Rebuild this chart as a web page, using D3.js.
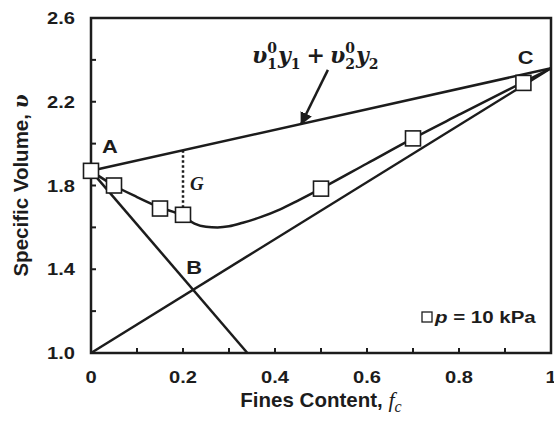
<!DOCTYPE html>
<html>
<head>
<meta charset="utf-8">
<script src="https://cdn.jsdelivr.net/npm/d3@7"></script>
<style>
  html, body { margin: 0; padding: 0; background: #fff; }
  svg { display: block; }
</style>
</head>
<body>
<div id="chart"></div>
<script>
// measured specimens (p = 10 kPa)
const sampleFc = [0, 0.05, 0.15, 0.2, 0.5, 0.7, 0.94];
const sampleV = [1.87, 1.80, 1.69, 1.66, 1.785, 2.025, 2.29];

// fitted curve
const curveFc = [0, 0.05, 0.1, 0.15, 0.2, 0.225, 0.25, 0.275, 0.3, 0.33, 0.37, 0.41, 0.45, 0.5, 0.6, 0.7, 0.8, 0.9, 1.0];
const curveV = [1.87, 1.80, 1.745, 1.695, 1.655, 1.618, 1.603, 1.60, 1.605, 1.622, 1.65, 1.685, 1.728, 1.785, 1.905, 2.025, 2.138, 2.25, 2.36];

// straight reference lines
const upperFc = [0, 1], upperV = [1.87, 2.36];     // A - C
const lowerFc = [0, 1], lowerV = [1.0, 2.36];      // origin - C
const abFc = [0, 0.34], abV = [1.87, 1.0];         // A - B

const xTicks = [0, 0.1, 0.2, 0.3, 0.4, 0.5, 0.6, 0.7, 0.8, 0.9, 1];
const xTickLabels = ['0', '0.2', '0.4', '0.6', '0.8', '1'];
const yTicks = [1.0, 1.2, 1.4, 1.6, 1.8, 2.0, 2.2, 2.4, 2.6];
const yTickLabels = ['1.0', '1.4', '1.8', '2.2', '2.6'];

const W = 554, H = 421;
const ink = '#1c1c1c';
const sans = '"Liberation Sans", Arial, sans-serif';
const svg = d3.select('#chart').append('svg')
    .attr('width', W).attr('height', H);

const x = d3.scaleLinear().domain([0, 1]).range([91, 551]);
const y = d3.scaleLinear().domain([1.0, 2.6]).range([353, 18]);

// frame
svg.append('rect')
    .attr('x', x(0)).attr('y', y(2.6))
    .attr('width', x(1) - x(0)).attr('height', y(1.0) - y(2.6))
    .attr('fill', 'none').attr('stroke', ink).attr('stroke-width', 2.5);

// ticks (inward)
svg.append('g').selectAll('line').data(xTicks).join('line')
    .attr('x1', d => x(d)).attr('x2', d => x(d))
    .attr('y1', y(1.0)).attr('y2', y(1.0) - 5)
    .attr('stroke', ink).attr('stroke-width', 2);
svg.append('g').selectAll('line').data(yTicks).join('line')
    .attr('x1', x(0)).attr('x2', x(0) + 5)
    .attr('y1', d => y(d)).attr('y2', d => y(d))
    .attr('stroke', ink).attr('stroke-width', 2);

// the tick labels in the figure are a bit wide, so stretch them sideways
const stretch = 1.22;
svg.append('g').selectAll('text').data(xTickLabels).join('text')
    .attr('transform', d => `translate(${x(+d)},${y(1.0) + 30}) scale(${stretch},1)`)
    .attr('text-anchor', 'middle')
    .style('font', `bold 16.5px ${sans}`)
    .attr('fill', ink).text(d => d);
svg.append('g').selectAll('text').data(yTickLabels).join('text')
    .attr('transform', d => `translate(${x(0) - 16},${y(+d) + 6}) scale(${stretch},1)`)
    .attr('text-anchor', 'end')
    .style('font', `bold 16.5px ${sans}`)
    .attr('fill', ink).text(d => d);

// axis titles
const yTitle = svg.append('text')
    .attr('transform', `translate(28,${(y(1.0) + y(2.6)) / 2}) rotate(-90)`)
    .attr('text-anchor', 'middle')
    .style('font', `bold 20.5px ${sans}`)
    .attr('fill', ink);
yTitle.append('tspan').text('Specific Volume, ');
yTitle.append('tspan').style('font', 'italic bold 20px "DejaVu Serif", serif').text('υ');

const xTitle = svg.append('text')
    .attr('x', (x(0) + x(1)) / 2).attr('y', 407)
    .attr('text-anchor', 'middle')
    .style('font', `bold 20.5px ${sans}`)
    .attr('fill', ink);
xTitle.append('tspan').text('Fines Content,  ');
xTitle.append('tspan').style('font', 'italic 22px "Liberation Serif", serif').text('f');
xTitle.append('tspan').attr('dy', 5).style('font', 'italic 16px "Liberation Serif", serif').text('c');

// lines
const line = d3.line().x(d => x(d[0])).y(d => y(d[1]));
const zip = (a, b) => a.map((v, i) => [v, b[i]]);

[[upperFc, upperV], [lowerFc, lowerV], [abFc, abV]].forEach(([f, v]) => {
    svg.append('path').datum(zip(f, v))
        .attr('d', line)
        .attr('fill', 'none').attr('stroke', ink).attr('stroke-width', 2.5);
});

svg.append('path').datum(zip(curveFc, curveV))
    .attr('d', line.curve(d3.curveMonotoneX))
    .attr('fill', 'none').attr('stroke', ink).attr('stroke-width', 2.5);

// G gap (dotted)
const gFc = 0.2;
svg.append('line')
    .attr('x1', x(gFc)).attr('x2', x(gFc))
    .attr('y1', y(upperV[0] + gFc * (upperV[1] - upperV[0])))
    .attr('y2', y(sampleV[3]) - 7)
    .attr('stroke', ink).attr('stroke-width', 2.5)
    .attr('stroke-dasharray', '2.5,2.5');

// markers
const ms = 15;
svg.append('g').selectAll('rect').data(zip(sampleFc, sampleV)).join('rect')
    .attr('x', d => x(d[0]) - ms / 2).attr('y', d => y(d[1]) - ms / 2)
    .attr('width', ms).attr('height', ms)
    .attr('fill', '#fff').attr('stroke', ink).attr('stroke-width', 1.6);

// point labels
const pointLabels = [
    { t: 'A', fc: 0.041, v: 1.991 },
    { t: 'B', fc: 0.224, v: 1.411 },
    { t: 'C', fc: 0.945, v: 2.416 }
];
svg.append('g').selectAll('text').data(pointLabels).join('text')
    .attr('transform', d => `translate(${x(d.fc)},${y(d.v) + 7}) scale(1.15,1)`)
    .attr('text-anchor', 'middle')
    .style('font', `bold 19px ${sans}`)
    .attr('fill', ink).text(d => d.t);

svg.append('text')
    .attr('x', x(0.2304)).attr('y', y(1.81)).attr('dy', '0.35em')
    .attr('text-anchor', 'middle')
    .style('font', 'italic bold 19px "Liberation Serif", serif')
    .attr('fill', ink).text('G');

// arrow
const arrowFc = [0.515, 0.457];
const arrowV = [2.352, 2.094];
svg.append('defs').append('marker')
    .attr('id', 'head').attr('viewBox', '0 0 10 10')
    .attr('refX', 9).attr('refY', 5)
    .attr('markerWidth', 5).attr('markerHeight', 5)
    .attr('markerUnits', 'strokeWidth')
    .attr('orient', 'auto')
    .append('path').attr('d', 'M0,0 L10,5 L0,10 z').attr('fill', ink);
svg.append('line')
    .attr('x1', x(arrowFc[0])).attr('y1', y(arrowV[0]))
    .attr('x2', x(arrowFc[1])).attr('y2', y(arrowV[1]))
    .attr('stroke', ink).attr('stroke-width', 2.5)
    .attr('marker-end', 'url(#head)');

// formula label  υ1^0 y1 + υ2^0 y2
const formula = svg.append('g').attr('fill', ink);
const baseY = 63;
let cx = 252;
const mainFont = 'bold 22px "DejaVu Serif", serif';
const letterFont = 'italic bold 22px "DejaVu Serif", serif';
const smallFont = 'bold 14px "DejaVu Serif", serif';
function put(txt, font, dy) {
    const t = formula.append('text').attr('x', cx).attr('y', baseY + (dy || 0))
        .style('font', font).text(txt);
    return t.node().getComputedTextLength();
}
const parts = [
    ['υ', letterFont], ['0', '1'], ['y', letterFont], [null, '1'], ['+', mainFont, 5],
    ['υ', letterFont], ['0', '2'], ['y', letterFont], [null, '2']
];
parts.forEach(p => {
    if (p[1] && p[1].length > 1) {
        cx += p[2] || 0;
        cx += put(p[0], p[1]);
        cx += p[2] || 0;
    } else {
        let w = 0;
        if (p[0]) w = Math.max(w, put(p[0], smallFont, -10));
        w = Math.max(w, put(p[1], smallFont, 6));
        cx += w + 1;
    }
});

// legend
const legend = svg.append('g');
legend.append('rect')
    .attr('x', 422).attr('y', 312).attr('width', 10).attr('height', 10)
    .attr('fill', '#fff').attr('stroke', ink).attr('stroke-width', 1.3);
const lt = legend.append('text')
    .attr('transform', 'translate(435,323) scale(1.28,1)')
    .style('font', `bold 16px ${sans}`).attr('fill', ink);
lt.append('tspan').style('font-style', 'italic').text('p');
lt.append('tspan').text(' = 10 kPa');
</script>
</body>
</html>
